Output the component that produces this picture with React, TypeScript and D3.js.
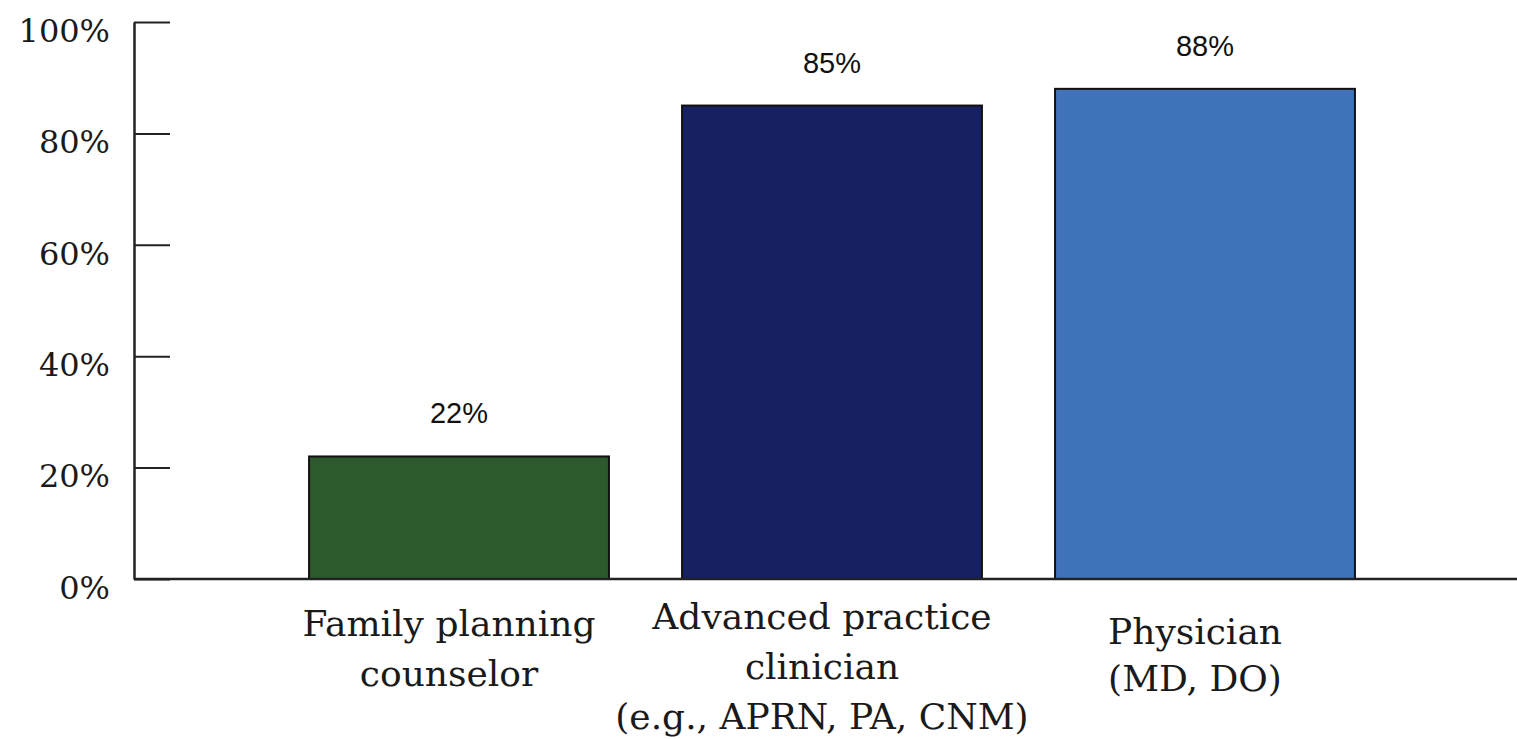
import React, { useRef, useEffect } from "react";
import * as d3 from "d3";

// chart data
const categories = ["Family planning counselor", "Advanced practice clinician", "Physician"];
const labelLines = [
  ["Family planning", "counselor"],
  ["Advanced practice", "clinician", "(e.g., APRN, PA, CNM)"],
  ["Physician", "(MD, DO)"],
];
const values = [22, 85, 88];
const barColors = ["#2d5a2d", "#172062", "#4073b9"];
const yTicks = [0, 20, 40, 60, 80, 100];

export default function App() {
  const svgRef = useRef<SVGSVGElement | null>(null);

  useEffect(() => {
    const w = 1517;
    const h = 739;
    const svg = d3.select(svgRef.current);
    svg.selectAll("*").remove();
    svg.attr("width", w).attr("height", h);

    // scales
    const x = d3
      .scaleBand()
      .domain(categories)
      .range([272.5, 1391.5])
      .paddingInner(0.196)
      .paddingOuter(0.098);
    const y = d3.scaleLinear().domain([0, 100]).range([579, 22]);
    const axisX = 134;

    // y axis, ticks point inward
    const yAxis = d3
      .axisLeft(y)
      .tickValues(yTicks)
      .tickSizeInner(-36)
      .tickSizeOuter(0)
      .tickPadding(24)
      .tickFormat((d) => `${d}%`);
    const gy = svg.append("g").attr("transform", `translate(${axisX},0)`).call(yAxis);
    gy.select(".domain").attr("stroke", "#222").attr("stroke-width", 2.5);
    gy.selectAll(".tick line").attr("stroke", "#222").attr("stroke-width", 2);
    gy.selectAll(".tick text")
      .attr("dy", "0.6em")
      .style("font-family", "'DejaVu Serif', serif")
      .style("font-size", "32px")
      .attr("fill", "#1a1a1a");

    // bars
    svg
      .append("g")
      .selectAll("rect")
      .data(values)
      .enter()
      .append("rect")
      .attr("x", (d, i) => x(categories[i])!)
      .attr("y", (d) => y(d))
      .attr("width", x.bandwidth())
      .attr("height", (d) => y(0) - y(d))
      .attr("fill", (d, i) => barColors[i])
      .attr("stroke", "#111")
      .attr("stroke-width", 2);

    // value labels
    svg
      .append("g")
      .selectAll("text")
      .data(values)
      .enter()
      .append("text")
      .attr("x", (d, i) => x(categories[i])! + x.bandwidth() / 2)
      .attr("y", (d) => y(d) - 33)
      .attr("text-anchor", "middle")
      .style("font-family", "'Liberation Sans', Arial, sans-serif")
      .style("font-size", "29px")
      .attr("fill", "#111")
      .text((d) => `${d}%`);

    // x axis line
    svg
      .append("line")
      .attr("x1", axisX)
      .attr("x2", w)
      .attr("y1", y(0))
      .attr("y2", y(0))
      .attr("stroke", "#222")
      .attr("stroke-width", 2.5);

    // category labels
    const firstBaseline = [636, 629, 644];
    const lineGap = 50;
    const g = svg.append("g");
    labelLines.forEach((lines, i) => {
      const cx = x(categories[i])! + x.bandwidth() / 2 - 10;
      lines.forEach((line, j) => {
        g.append("text")
          .attr("x", cx)
          .attr("y", firstBaseline[i] + j * (i === 2 ? 47 : lineGap))
          .attr("text-anchor", "middle")
          .style("font-family", "'DejaVu Serif', serif")
          .style("font-size", "36px")
          .attr("fill", "#1a1a1a")
          .text(line);
      });
    });
  }, []);

  return (
    <div>
      <svg ref={svgRef} style={{ position: "absolute", left: 0, top: 0, background: "#fff" }}></svg>
    </div>
  );
}
